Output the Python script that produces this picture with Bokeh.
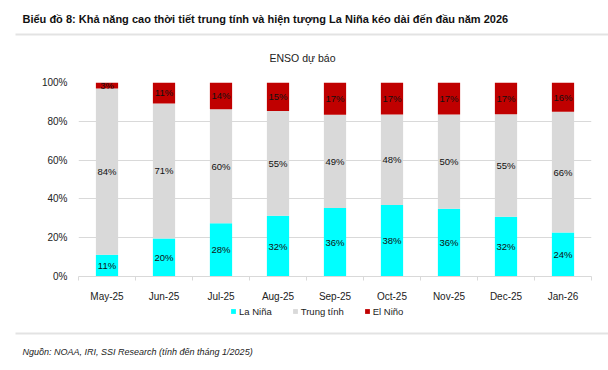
from bokeh.plotting import figure
from bokeh.models import (ColumnDataSource, LabelSet, Label, Legend, LegendItem,
                          FixedTicker, Range1d)
from bokeh.core.properties import value
from bokeh.embed import file_html
from bokeh.resources import INLINE

# ---------------- data ----------------
months = ["May-25", "Jun-25", "Jul-25", "Aug-25", "Sep-25", "Oct-25", "Nov-25", "Dec-25", "Jan-26"]
la_nina = [11, 20, 28, 32, 36, 38, 36, 32, 24]
trung_tinh = [84, 71, 60, 55, 49, 48, 50, 55, 66]
el_nino = [3, 11, 14, 15, 17, 17, 17, 17, 16]
series_names = ["La Niña", "Trung tính", "El Niño"]
y_ticks = [0, 0.2, 0.4, 0.6, 0.8, 1.0]
y_tick_labels = ["0%", "20%", "40%", "60%", "80%", "100%"]
title_text = "Biểu đồ 8: Khả năng cao thời tiết trung tính và hiện tượng La Niña kéo dài đến đầu năm 2026"
chart_title = "ENSO dự báo"
source_text = "Nguồn: NOAA, IRI, SSI Research (tính đến tháng 1/2025)"

# ---------------- style ----------------
colors = ["#00FFFF", "#D9D9D9", "#C00000"]
FONT = "Liberation Sans"
TXT = "#222222"
W = 608
H_TOP, H_MID, H_BOT = 70, 234, 66


def blank_fig(h):
    f = figure(width=W, height=h, output_backend="svg", toolbar_location=None,
               x_range=Range1d(0, W), y_range=Range1d(h, 0),
               x_axis_location=None, y_axis_location=None,
               min_border=0, min_border_left=0, min_border_right=0,
               min_border_top=0, min_border_bottom=0,
               outline_line_color=None, border_fill_color="white")
    f.grid.visible = False
    return f


# ---------------- header ----------------
top = blank_fig(H_TOP)
top.add_layout(Label(x=22, y=18, text=title_text, text_font=FONT, text_font_style="bold",
                     text_font_size="11px", text_baseline="middle", text_color="#111111"))
top.segment(x0=[15], y0=[34], x1=[W], y1=[34], line_color="#E3E3E3", line_width=2)
top.add_layout(Label(x=302, y=57, text=chart_title, text_font=FONT, text_font_size="10.5px",
                     text_align="center", text_baseline="middle", text_color=TXT))

# ---------------- chart ----------------
xs = list(range(len(months)))
totals = [a + b + c for a, b, c in zip(la_nina, trung_tinh, el_nino)]
ln = [a / t for a, t in zip(la_nina, totals)]
tt = [b / t for b, t in zip(trung_tinh, totals)]
en = [c / t for c, t in zip(el_nino, totals)]
b3 = [a + b for a, b in zip(ln, tt)]
top3 = [a + b for a, b in zip(b3, en)]

src = ColumnDataSource(dict(
    x=xs, ln=ln, b3=b3, top3=top3,
    ln_mid=[v / 2 for v in ln],
    tt_mid=[a + b / 2 for a, b in zip(ln, tt)],
    en_mid=[a + b / 2 for a, b in zip(b3, en)],
    ln_txt=[f"{v}%" for v in la_nina],
    tt_txt=[f"{v}%" for v in trung_tinh],
    en_txt=[f"{v}%" for v in el_nino],
))

p = figure(width=W, height=H_MID, output_backend="svg", toolbar_location=None,
           x_range=Range1d(-0.5, len(months) - 0.5), y_range=Range1d(0, 1),
           min_border_left=78, min_border_right=17, min_border_top=12, min_border_bottom=25,
           outline_line_color=None, border_fill_color="white")

bw = 0.39
stack = [("ln", None), ("b3", "ln"), ("top3", "b3")]
for (tcol, bcol), c in zip(stack, colors):
    p.vbar(x="x", bottom=bcol if bcol else 0, top=tcol, width=bw, source=src,
           fill_color=c, line_color=None)

for ycol, tcol in [("ln_mid", "ln_txt"), ("tt_mid", "tt_txt"), ("en_mid", "en_txt")]:
    p.add_layout(LabelSet(x="x", y=ycol, text=tcol, source=src, text_align="center",
                          text_baseline="middle", text_font=value(FONT),
                          text_font_size="9.5px", text_color="#111111"))

p.xaxis.ticker = FixedTicker(ticks=xs, minor_ticks=[i - 0.5 for i in range(len(months) + 1)])
p.xaxis.major_label_overrides = {i: m for i, m in enumerate(months)}
p.xaxis.major_tick_line_color = None
p.xaxis.major_tick_out = 0
p.xaxis.major_tick_in = 0
p.xaxis.minor_tick_line_color = "#D9D9D9"
p.xaxis.minor_tick_in = 0
p.xaxis.minor_tick_out = 4
p.xaxis.axis_line_color = "#D9D9D9"
p.xaxis.major_label_standoff = 10
p.xaxis.major_label_text_font = FONT
p.xaxis.major_label_text_font_size = "10px"
p.xaxis.major_label_text_color = TXT

p.yaxis.ticker = FixedTicker(ticks=y_ticks)
p.yaxis.major_label_overrides = {t: l for t, l in zip(y_ticks, y_tick_labels)}
p.yaxis.axis_line_color = None
p.yaxis.major_tick_line_color = None
p.yaxis.major_tick_out = 0
p.yaxis.major_tick_in = 0
p.yaxis.minor_tick_line_color = None
p.yaxis.major_label_standoff = 11
p.yaxis.major_label_text_font = FONT
p.yaxis.major_label_text_font_size = "10px"
p.yaxis.major_label_text_color = TXT

p.xgrid.grid_line_color = None
p.ygrid.grid_line_color = "#D9D9D9"
p.ygrid.ticker = FixedTicker(ticks=y_ticks)

# ---------------- legend + footer ----------------
bot = blank_fig(H_BOT)
# legend keys: same series, hidden in this strip (the bars are drawn in the chart above)
lr = []
for (tcol, bcol), c in zip(stack, colors):
    r = bot.vbar(x="x", bottom=bcol if bcol else 0, top=tcol, width=bw, source=src,
                 fill_color=c, line_color=None)
    r.visible = False
    lr.append(r)
legend = Legend(items=[LegendItem(label=n, renderers=[r]) for n, r in zip(series_names, lr)],
                orientation="horizontal", location=(230, H_BOT - 13),
                glyph_width=6, glyph_height=6, label_standoff=3, spacing=20,
                padding=0, margin=0, border_line_color=None, background_fill_alpha=0,
                inactive_fill_alpha=0,
                label_text_font=FONT, label_text_font_size="9.5px", label_text_color=TXT,
                label_height=12)
bot.add_layout(legend)
bot.segment(x0=[15], y0=[29], x1=[W], y1=[29], line_color="#E3E3E3", line_width=2)
bot.add_layout(Label(x=22, y=47, text=source_text, text_font=FONT, text_font_style="italic",
                     text_font_size="9px", text_baseline="middle", text_color=TXT))

# three stacked roots (no shared frame alignment)
open("out.html", "w").write(file_html([top, p, bot], INLINE))
